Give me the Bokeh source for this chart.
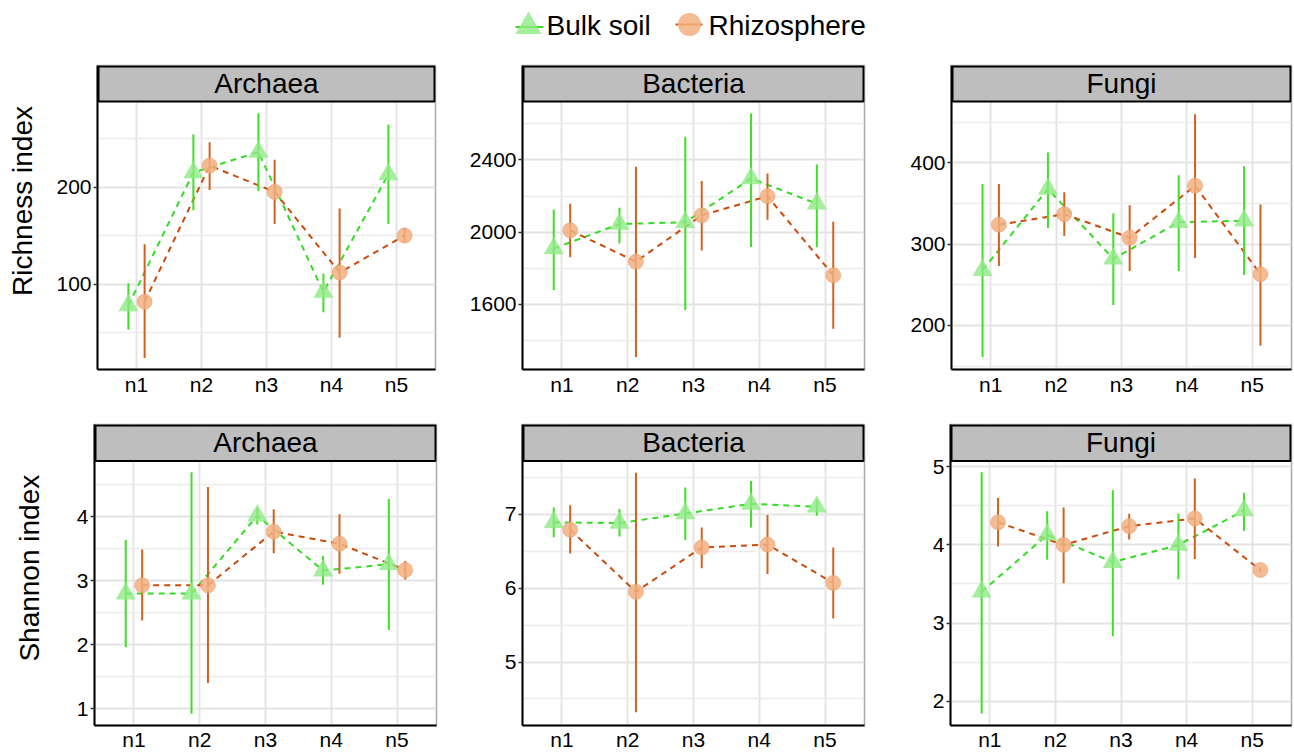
import math
from bokeh.plotting import figure
from bokeh.models import ColumnDataSource, Range1d, FactorRange, FixedTicker, LinearScale
from bokeh.transform import dodge
from bokeh.layouts import column, row
from bokeh.core.properties import value
from bokeh.embed import file_html
from bokeh.resources import INLINE

# ---------------- data ----------------
cats = ["n1", "n2", "n3", "n4", "n5"]
series = ["Bulk soil", "Rhizosphere"]
groups = ["Archaea", "Bacteria", "Fungi"]
indices = ["Richness index", "Shannon index"]

# Richness
archaea_rich_bulk = [78, 215, 236, 92, 213]
archaea_rich_bulk_lo = [53, 176, 196, 71, 162]
archaea_rich_bulk_hi = [101, 254, 276, 111, 264]
archaea_rich_rhizo = [82, 222, 195, 112, 150]
archaea_rich_rhizo_lo = [24, 197, 162, 45, 143]
archaea_rich_rhizo_hi = [141, 246, 228, 178, 158]

bacteria_rich_bulk = [1910, 2045, 2055, 2297, 2158]
bacteria_rich_bulk_lo = [1680, 1937, 1568, 1918, 1916]
bacteria_rich_bulk_hi = [2125, 2135, 2529, 2657, 2375]
bacteria_rich_rhizo = [2010, 1837, 2093, 2199, 1761]
bacteria_rich_rhizo_lo = [1861, 1308, 1898, 2069, 1465]
bacteria_rich_rhizo_hi = [2158, 2362, 2284, 2325, 2058]

fungi_rich_bulk = [268, 368, 282, 327, 329]
fungi_rich_bulk_lo = [161, 320, 225, 267, 262]
fungi_rich_bulk_hi = [374, 413, 338, 385, 396]
fungi_rich_rhizo = [324, 337, 308, 372, 263]
fungi_rich_rhizo_lo = [273, 310, 267, 283, 175]
fungi_rich_rhizo_hi = [374, 364, 348, 460, 349]

# Shannon
archaea_shan_bulk = [2.80, 2.80, 4.02, 3.16, 3.26]
archaea_shan_bulk_lo = [1.96, 0.92, 3.88, 2.94, 2.23]
archaea_shan_bulk_hi = [3.64, 4.70, 4.14, 3.39, 4.28]
archaea_shan_rhizo = [2.93, 2.93, 3.77, 3.58, 3.17]
archaea_shan_rhizo_lo = [2.38, 1.40, 3.43, 3.11, 3.02]
archaea_shan_rhizo_hi = [3.49, 4.47, 4.12, 4.04, 3.31]

bacteria_shan_bulk = [6.89, 6.88, 7.01, 7.14, 7.10]
bacteria_shan_bulk_lo = [6.69, 6.70, 6.65, 6.82, 6.98]
bacteria_shan_bulk_hi = [7.09, 7.07, 7.36, 7.45, 7.20]
bacteria_shan_rhizo = [6.79, 5.95, 6.55, 6.59, 6.07]
bacteria_shan_rhizo_lo = [6.47, 4.32, 6.27, 6.19, 5.59]
bacteria_shan_rhizo_hi = [7.12, 7.56, 6.82, 6.99, 6.55]

fungi_shan_bulk = [3.40, 4.13, 3.78, 4.00, 4.44]
fungi_shan_bulk_lo = [1.84, 3.81, 2.83, 3.56, 4.18]
fungi_shan_bulk_hi = [4.93, 4.43, 4.70, 4.40, 4.67]
fungi_shan_rhizo = [4.29, 4.00, 4.24, 4.34, 3.68]
fungi_shan_rhizo_lo = [3.98, 3.51, 4.07, 3.82, 3.65]
fungi_shan_rhizo_hi = [4.60, 4.48, 4.40, 4.85, 3.71]

# ---------------- style ----------------
FONT = "Liberation Sans"
GREEN_ERR = "#3DE024"
GREEN_LINE = "#33DD22"
GREEN_PT = "#8EEA84"
ORANGE_ERR = "#D2601E"
ORANGE_LINE = "#CC4A0A"
ORANGE_PT = "#F2B080"
STRIP_FILL = "#BEBEBE"
GRID = "#E4E4E4"
DODGE = 0.125
XPAD = 0.1


def make_panel(title, ylim, ticks, minor, bulk, blo, bhi, rh, rlo, rhi,
               bl, fw, br, strip_h, panel_h, bb, label_standoff):
    width = bl + fw + br
    total_frame = strip_h + panel_h
    ylo, yhi = ylim
    ytop = ylo + (yhi - ylo) * total_frame / panel_h
    src = ColumnDataSource(dict(cat=cats, bulk=bulk, blo=blo, bhi=bhi,
                                rh=rh, rlo=rlo, rhi=rhi))
    xr = FactorRange(factors=cats, range_padding=XPAD,
                     range_padding_units="absolute")
    p = figure(width=width, height=2 + total_frame + bb, x_range=xr,
               y_range=Range1d(ylo, ytop), output_backend="svg",
               toolbar_location=None, min_border_left=bl,
               min_border_right=br, min_border_top=2, min_border_bottom=bb)
    p.extra_y_ranges = {"py": Range1d(0, total_frame)}
    p.extra_y_scales = {"py": LinearScale()}
    p.background_fill_color = "white"
    p.border_fill_color = "white"
    p.outline_line_color = "#A8A8A8"
    p.outline_line_width = 1.5

    p.yaxis.ticker = FixedTicker(ticks=ticks, minor_ticks=minor)
    p.ygrid.grid_line_color = GRID
    p.ygrid.grid_line_width = 2
    p.ygrid.minor_grid_line_color = "#ECECEC"
    p.ygrid.minor_grid_line_width = 1.5
    p.xgrid.grid_line_color = GRID
    p.xgrid.grid_line_width = 2

    for ax in (p.xaxis, p.yaxis):
        ax.axis_line_color = "black"
        ax.axis_line_width = 2
        ax.major_label_text_font = FONT
        ax.major_label_text_font_size = "21px"
        ax.major_label_text_color = "black"
        ax.minor_tick_line_color = None
    p.yaxis.major_tick_out = 4
    p.yaxis.major_tick_in = 0
    p.yaxis.major_tick_line_color = "#333333"
    p.yaxis.major_tick_line_width = 1.5
    p.yaxis.major_label_standoff = 2
    p.xaxis.major_tick_out = 0
    p.xaxis.major_tick_in = 0
    p.xaxis.major_tick_line_color = None
    p.xaxis.major_label_standoff = label_standoff

    xb = dodge("cat", -DODGE, range=xr)
    xrz = dodge("cat", DODGE, range=xr)

    p.line(x=xb, y="bulk", source=src, line_color=GREEN_LINE,
           line_width=2, line_dash="6 5")
    p.line(x=xrz, y="rh", source=src, line_color=ORANGE_LINE,
           line_width=2, line_dash="6 5")
    p.segment(x0=xb, y0="blo", x1=xb, y1="bhi", source=src,
              line_color=GREEN_ERR, line_width=2)
    p.segment(x0=xrz, y0="rlo", x1=xrz, y1="rhi", source=src,
              line_color=ORANGE_ERR, line_width=2)
    p.scatter(x=xb, y="bulk", source=src, marker="triangle", size=20,
              fill_color=GREEN_PT, fill_alpha=0.8, line_color=None)
    p.scatter(x=xrz, y="rh", source=src, marker="circle", size=15,
              fill_color=ORANGE_PT, fill_alpha=0.85, line_color="#E9A070",
              line_alpha=0.6, line_width=1)

    # facet strip on top of the frame (synthetic categorical coordinates)
    span = len(cats) + 2 * XPAD
    inset = 0.9 * span / fw
    p.quad(left=[-XPAD + inset], right=[len(cats) + XPAD - inset],
           bottom=[panel_h], top=[total_frame - 0.9], y_range_name="py",
           fill_color=STRIP_FILL, line_color="black", line_width=2.2)
    p.text(x=[len(cats) / 2], y=[panel_h + strip_h / 2], text=[title],
           y_range_name="py", text_align="center",
           text_baseline="middle", text_font=value(FONT),
           text_font_size="28px", text_color="black")
    return p


def ylabel_fig(text, w, h, cx, cy_from_top):
    f = figure(width=w, height=h, x_range=Range1d(0, w), y_range=Range1d(0, h),
               x_axis_type=None, y_axis_type=None, output_backend="svg",
               toolbar_location=None, min_border=0)
    f.outline_line_color = None
    f.background_fill_color = "white"
    f.border_fill_color = "white"
    f.text(x=[cx], y=[h - cy_from_top], text=[text], angle=math.pi / 2,
           text_align="center", text_baseline="middle",
           text_font=value(FONT), text_font_size="28px", text_color="black")
    return f


# ---------------- legend ----------------
LW, LH = 1293, 63
leg = figure(width=LW, height=LH, x_range=Range1d(0, LW), y_range=Range1d(0, LH),
             x_axis_type=None, y_axis_type=None, output_backend="svg",
             toolbar_location=None, min_border=0)
leg.outline_line_color = None
leg.background_fill_color = "white"
leg.border_fill_color = "white"
leg.segment(x0=[515], y0=[36.5], x1=[543], y1=[36.5], line_color=GREEN_ERR, line_width=2)
leg.scatter(x=[528], y=[37], marker="triangle", size=26, fill_color=GREEN_PT,
            fill_alpha=0.8, line_color=None)
leg.text(x=[546], y=[38], text=[series[0]], text_baseline="middle",
         text_font=value(FONT), text_font_size="28px", text_color="black")
leg.segment(x0=[675], y0=[39], x1=[702], y1=[39], line_color=ORANGE_ERR, line_width=2)
leg.scatter(x=[689], y=[39], marker="circle", size=23, fill_color=ORANGE_PT,
            fill_alpha=0.85, line_color=None)
leg.text(x=[708], y=[38], text=[series[1]], text_baseline="middle",
         text_font=value(FONT), text_font_size="28px", text_color="black")

# ---------------- panels ----------------
TOP_STRIP, TOP_PANEL, TOP_BB = 36, 268, 53
BOT_STRIP, BOT_PANEL, BOT_BB = 37, 268, 24

p1 = make_panel(groups[0], (12.2, 288), [100, 200], [50, 150, 250],
                archaea_rich_bulk, archaea_rich_bulk_lo, archaea_rich_bulk_hi,
                archaea_rich_rhizo, archaea_rich_rhizo_lo, archaea_rich_rhizo_hi,
                53, 338, 2, TOP_STRIP, TOP_PANEL, TOP_BB, 3)
p2 = make_panel(groups[1], (1239, 2724), [1600, 2000, 2400], [1400, 1800, 2200, 2600],
                bacteria_rich_bulk, bacteria_rich_bulk_lo, bacteria_rich_bulk_hi,
                bacteria_rich_rhizo, bacteria_rich_rhizo_lo, bacteria_rich_rhizo_hi,
                85, 342, 2, TOP_STRIP, TOP_PANEL, TOP_BB, 3)
p3 = make_panel(groups[2], (145.7, 475.7), [200, 300, 400], [150, 250, 350, 450],
                fungi_rich_bulk, fungi_rich_bulk_lo, fungi_rich_bulk_hi,
                fungi_rich_rhizo, fungi_rich_rhizo_lo, fungi_rich_rhizo_hi,
                85, 340, 2, TOP_STRIP, TOP_PANEL, TOP_BB, 3)

p4 = make_panel(groups[0], (0.736, 4.875), [1, 2, 3, 4], [1.5, 2.5, 3.5, 4.5],
                archaea_shan_bulk, archaea_shan_bulk_lo, archaea_shan_bulk_hi,
                archaea_shan_rhizo, archaea_shan_rhizo_lo, archaea_shan_rhizo_hi,
                50, 342, 2, BOT_STRIP, BOT_PANEL, BOT_BB, 2)
p5 = make_panel(groups[1], (4.141, 7.72), [5, 6, 7], [4.5, 5.5, 6.5, 7.5],
                bacteria_shan_bulk, bacteria_shan_bulk_lo, bacteria_shan_bulk_hi,
                bacteria_shan_rhizo, bacteria_shan_rhizo_lo, bacteria_shan_rhizo_hi,
                84, 342, 2, BOT_STRIP, BOT_PANEL, BOT_BB, 2)
p6 = make_panel(groups[2], (1.6875, 5.075), [2, 3, 4, 5], [2.5, 3.5, 4.5],
                fungi_shan_bulk, fungi_shan_bulk_lo, fungi_shan_bulk_hi,
                fungi_shan_rhizo, fungi_shan_rhizo_lo, fungi_shan_rhizo_hi,
                84, 341, 2, BOT_STRIP, BOT_PANEL, BOT_BB, 2)

row1_h = 2 + TOP_STRIP + TOP_PANEL + TOP_BB
row2_h = 2 + BOT_STRIP + BOT_PANEL + BOT_BB
yl1 = ylabel_fig(indices[0], 44, row1_h, 22, 160)
yl2 = ylabel_fig(indices[1], 44, row2_h, 29, 158)

layout = column(leg,
                row(yl1, p1, p2, p3, spacing=0),
                row(yl2, p4, p5, p6, spacing=0),
                spacing=0)

open("out.html", "w").write(file_html(layout, INLINE))
